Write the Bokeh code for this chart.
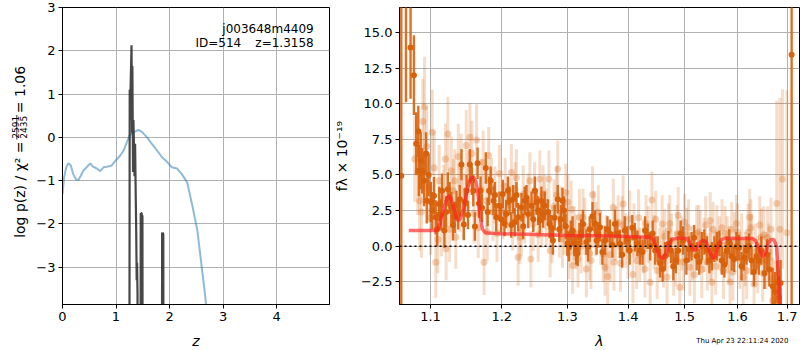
from bokeh.plotting import figure
from bokeh.models import (Range1d, FixedTicker, CustomJSTickFormatter, Label, Span,
                          ColumnDataSource)
from bokeh.layouts import row, column
from bokeh.core.properties import value
from bokeh.embed import file_html
from bokeh.resources import INLINE

# ---------------- left panel data ----------------
chi_z = [0.00, 0.03, 0.07, 0.11, 0.155, 0.20, 0.257, 0.30, 0.344, 0.39, 0.45, 0.519,
         0.563, 0.64, 0.706, 0.77, 0.83, 0.92, 0.99, 1.08, 1.14, 1.20, 1.25, 1.33,
         1.42, 1.49, 1.58, 1.67, 1.77, 1.86, 1.95, 2.04, 2.14, 2.23, 2.33, 2.42,
         2.52, 2.61, 2.67, 2.70]
chi_logp = [-1.31, -0.92, -0.69, -0.60, -0.65, -0.85, -0.98, -0.98, -0.88, -0.77,
            -0.69, -0.60, -0.67, -0.72, -0.78, -0.69, -0.68, -0.65, -0.54, -0.42,
            -0.31, -0.12, 0.04, 0.12, 0.17, 0.12, 0.00, -0.15, -0.31, -0.46, -0.56,
            -0.69, -0.72, -0.85, -1.04, -1.54, -2.15, -3.08, -3.70, -4.10]

pz_z = [1.248, 1.256, 1.262, 1.268, 1.290, 1.300, 1.306, 1.318, 1.326, 1.336, 1.346,
        1.357, 1.368, 1.378, 1.386, 1.394, 1.402, 1.412, 1.455, 1.462, 1.468, 1.474,
        1.480, 1.488, 1.494, 1.500, 1.856, 1.862, 1.870, 1.876, 1.884, 1.890]
pz_logp = [-9.0, 1.10, 0.40, 0.90, 2.13, 0.10, 1.65, -0.80, 0.40, -0.20, -0.90,
           -0.15, -1.30, -2.20, -3.30, -2.90, -3.60, -9.0, -9.0, -1.75, -3.40, -1.75,
           -1.75, -3.00, -1.80, -9.0, -9.0, -2.20, -2.30, -2.20, -2.25, -9.0]

left_xticks = [0, 1, 2, 3, 4]
left_yticks = [-3, -2, -1, 0, 1, 2, 3]
root_name = "j003648m4409"
id_text = "ID=514"
z_text = "z=1.3158"
ylabel_main = "log p(z) / \u03c7\u00b2 ="
chi_num = "2591"
chi_den = "2435"
ylabel_end = "= 1.06"

# ---------------- right panel data ----------------
dark_wave = [1.0615, 1.0676, 1.0736, 1.0780, 1.0810, 1.0838, 1.0845, 1.0870, 1.0890,
             1.0915, 1.0940, 1.0950, 1.0975, 1.1005, 1.1025, 1.1047, 1.1070, 1.1090,
             1.1117, 1.1140, 1.1156, 1.1188, 1.1212, 1.1236, 1.1260, 1.1283, 1.1305,
             1.1330, 1.1355, 1.1378, 1.1400, 1.1424, 1.1457, 1.1470, 1.1495, 1.1515,
             1.1542, 1.1570, 1.1590, 1.1613, 1.1651, 1.1670, 1.1693, 1.1715, 1.1768,
             1.1795, 1.1816, 1.1839, 1.1881, 1.1900, 1.1919, 1.1966, 1.1990, 1.2015,
             1.2040, 1.2065, 1.2090, 1.2115, 1.2140, 1.2167, 1.2191, 1.2217, 1.2242,
             1.2292, 1.2318, 1.2342, 1.2368, 1.2394, 1.2444, 1.2470, 1.2494, 1.2520,
             1.2545, 1.2570, 1.2595, 1.2620, 1.2645, 1.2695, 1.2721, 1.2748, 1.2773,
             1.2800, 1.2848, 1.2873, 1.2898, 1.2923, 1.2948, 1.2974, 1.3000, 1.3027,
             1.3055, 1.3083, 1.3110, 1.3138, 1.3165, 1.3193, 1.3222, 1.3250, 1.3305,
             1.3333, 1.3360, 1.3405, 1.3445, 1.3472, 1.3500, 1.3527, 1.3568, 1.3610,
             1.3652, 1.3693, 1.3735, 1.3777, 1.3818, 1.3860, 1.3900, 1.3943, 1.3985,
             1.4028, 1.4072, 1.4117, 1.4160, 1.4205, 1.4249, 1.4293, 1.4338, 1.4382,
             1.4426, 1.4470, 1.4514, 1.4558, 1.4602, 1.4647, 1.4707, 1.4751, 1.4795,
             1.4839, 1.4883, 1.4927, 1.4972, 1.5032, 1.5080, 1.5127, 1.5175, 1.5222,
             1.5270, 1.5317, 1.5365, 1.5412, 1.5460, 1.5507, 1.5555, 1.5602, 1.5650,
             1.5696, 1.5745, 1.5791, 1.5840, 1.5886, 1.5935, 1.5981, 1.6030, 1.6078,
             1.6127, 1.6176, 1.6226, 1.6275, 1.6324, 1.6373, 1.6422, 1.6471, 1.6535,
             1.6584, 1.6633, 1.6700, 1.6750, 1.6798, 1.6830, 1.6863, 1.7092]
dark_flux = [4.94, 18.5, 13.95, 12.0, 7.2, 8.06, 5.3, 6.0, 5.3,
             4.6, 6.5, 3.2, 5.0, 3.1, 2.5, 3.55, 2.03, 1.2,
             2.97, 2.2, 3.9, 1.1, 2.4, 4.0, 3.4, 2.73, 1.5,
             2.03, 2.9, 2.27, 3.3, 5.73, 1.52, 3.1, 3.9, 2.2,
             5.73, 4.6, 3.9, 1.38, 5.82, 3.0, 3.9, 2.7, 5.49,
             2.4, 3.9, 4.6, 3.2, 3.6, 2.03, 2.85, 1.9, 3.67,
             1.6, 2.27, 3.9, 3.2, 1.5, 3.3, 1.68, 3.6, 2.03,
             2.73, 1.4, 3.2, 3.4, 2.27, 2.85, 1.9, 3.9, 3.1,
             2.5, 1.8, 3.2, 2.2, 2.85, 2.4, 1.56, 1.3, 0.4,
             2.0, 3.3, 1.2, 1.9, 3.2, 2.5, 1.4, 0.2, -0.07,
             0.9, 1.1, 0.2, -0.3, -0.5, 0.63, 1.0, 1.56, 0.3,
             -0.07, 1.2, 2.1, 1.6, 0.4, 0.8, 1.33, -0.4, 0.4,
             1.2, 0.87, 0.1, 1.56, 0.9, 0.17, -0.6, 1.1, 0.5,
             -0.3, 1.3, 0.63, 0.2, -0.3, -0.4, 1.1, 0.7, 0.0,
             0.9, -0.3, -0.2, -1.2, -1.6, -0.7, 0.17, -0.3, -1.4,
             -1.0, -0.3, 0.9, 0.4, -1.0, -0.2, 0.0, 0.6, -0.7,
             -1.1, 0.0, 0.3, -0.3, -1.0, -0.7, -0.2, 0.0, 0.2,
             -1.0, -1.3, -0.3, 0.3, -0.7, -0.9, 0.0, -0.1, -1.4,
             -0.8, -0.3, 0.0, -1.0, -1.8, -0.7, -1.0, -0.3, -1.9,
             -0.6, -1.63, -2.8, -3.2, -2.5, -3.6, -2.57, 13.43]
dark_err = [14.0, 8.4, 3.6, 2.8, 2.2, 1.8, 1.8, 2.0, 1.6,
            1.8, 1.5, 1.6, 1.5, 1.4, 1.3, 1.3, 1.2, 1.2,
            1.2, 1.1, 1.2, 1.2, 1.1, 1.2, 1.1, 1.1, 1.1,
            1.1, 1.0, 1.1, 1.0, 1.1, 1.1, 1.0, 1.1, 1.0,
            1.1, 1.0, 1.1, 1.0, 1.1, 1.0, 1.0, 1.0, 1.1,
            1.0, 1.0, 1.0, 1.0, 0.9, 1.0, 1.0, 0.9, 1.0,
            0.9, 1.0, 1.0, 1.0, 0.9, 1.0, 1.0, 0.9, 1.0,
            1.0, 0.9, 1.0, 0.9, 1.0, 1.0, 0.9, 1.0, 0.9,
            1.0, 0.9, 1.0, 0.9, 1.0, 0.9, 1.0, 0.9, 1.0,
            0.9, 1.0, 0.9, 1.0, 0.9, 1.0, 0.9, 0.9, 1.0,
            0.9, 1.0, 0.9, 1.0, 0.9, 1.0, 0.9, 1.0, 0.9,
            1.0, 0.9, 1.0, 0.9, 1.0, 0.9, 1.0, 0.9, 1.0,
            0.9, 1.0, 0.9, 1.0, 0.9, 1.0, 0.9, 1.0, 0.9,
            1.0, 0.9, 1.0, 0.9, 1.0, 0.9, 1.0, 0.9, 1.0,
            0.9, 1.0, 0.9, 1.0, 0.9, 1.0, 0.9, 0.9, 1.0,
            0.9, 1.0, 0.9, 1.0, 1.0, 0.9, 1.0, 0.9, 1.0,
            0.9, 1.0, 0.9, 1.0, 0.9, 1.0, 0.9, 1.0, 0.9,
            1.0, 0.9, 1.0, 0.9, 1.0, 0.9, 1.0, 0.9, 1.0,
            0.9, 1.0, 0.9, 1.0, 1.0, 1.0, 1.0, 1.0, 1.1,
            1.1, 1.2, 1.3, 1.4, 1.5, 1.5, 1.6, 20.0]

light_wave = [1.0790, 1.0855, 1.0899, 1.0921, 1.0975, 1.1024, 1.1071, 1.1117, 1.1150,
              1.1203, 1.1212, 1.1236, 1.1283, 1.1330, 1.1345, 1.1401, 1.1420, 1.1490,
              1.1542, 1.1600, 1.1637, 1.1731, 1.1744, 1.1778, 1.1810, 1.1850, 1.1872,
              1.1930, 1.1966, 1.2015, 1.2100, 1.2141, 1.2195, 1.2217, 1.2242, 1.2268,
              1.2290, 1.2318, 1.2390, 1.2419, 1.2434, 1.2470, 1.2545, 1.2570, 1.2620,
              1.2645, 1.2670, 1.2710, 1.2730, 1.2790, 1.2848, 1.2873, 1.2900, 1.2923,
              1.2974, 1.3010, 1.3027, 1.3083, 1.3110, 1.3138, 1.3193, 1.3220, 1.3250,
              1.3305, 1.3360, 1.3405, 1.3460, 1.3500, 1.3540, 1.3583, 1.3610, 1.3655,
              1.3700, 1.3749, 1.3790, 1.3832, 1.3870, 1.3915, 1.3960, 1.4028, 1.4083,
              1.4100, 1.4147, 1.4200, 1.4263, 1.4310, 1.4382, 1.4413, 1.4450, 1.4506,
              1.4550, 1.4594, 1.4640, 1.4682, 1.4707, 1.4760, 1.4800, 1.4840, 1.4883,
              1.4910, 1.4950, 1.5000, 1.5040, 1.5095, 1.5140, 1.5222, 1.5260, 1.5317,
              1.5360, 1.5420, 1.5475, 1.5507, 1.5530, 1.5602, 1.5650, 1.5728, 1.5760,
              1.5830, 1.5854, 1.5886, 1.5940, 1.6000, 1.6045, 1.6110, 1.6150, 1.6207,
              1.6239, 1.6280, 1.6326, 1.6400, 1.6471, 1.6520, 1.6569, 1.6620, 1.6667,
              1.6700, 1.6760, 1.6784, 1.6849, 1.6902, 1.6994]
light_flux = [6.12, 3.2, 8.76, 9.79, 4.13, 8.0, -1.12, 4.6, 1.5,
              6.12, -0.18, 7.87, 5.3, 4.6, 0.63, 3.2, 5.6, 7.06,
              7.64, 2.3, 7.46, 5.9, -1.12, 3.2, 6.36, 4.2, 2.38,
              0.9, 5.1, 2.5, 2.9, 5.17, 4.0, 4.8, -0.77, 0.63,
              1.2, 3.67, 3.2, 4.6, -0.89, 1.56, 0.8, 4.72, 3.67,
              3.1, 2.03, 4.72, -0.3, 2.8, 5.42, 1.1, 2.3, 0.5,
              3.78, 3.08, -0.42, -1.35, 0.9, 0.3, 2.03, 0.0, 2.03,
              -1.59, -0.5, 3.62, 1.2, 2.38, 0.6, -0.53, -1.47, -2.12,
              -0.6, 2.73, 0.9, 1.68, -1.2, 2.97, 0.4, 1.92, -1.98,
              1.1, -1.0, -0.6, 0.0, 1.6, -2.52, 3.25, 0.3, -1.7,
              -0.6, 1.57, 0.7, -2.17, 1.1, 0.4, -1.47, -0.9, 2.15,
              -2.87, 0.2, 1.68, 0.8, -1.47, -0.5, 0.87, 1.0, -1.63,
              0.1, -1.1, 1.8, -2.52, 1.2, 0.87, 0.2, -1.7, 0.9,
              -0.6, -2.5, 1.2, 0.5, 1.0, -1.0, -2.17, -0.9, 0.98,
              2.03, 0.4, -2.64, -1.3, 0.63, 0.8, -1.0, -0.4, 1.2,
              -3.8, -4.0, 3.0, 1.2, 4.72, 0.94]
light_err = [3.0, 3.5, 3.0, 3.5, 2.5, 3.0, 2.5, 2.5, 2.2,
             2.5, 2.2, 2.6, 2.4, 2.2, 2.2, 2.2, 2.3, 2.5,
             2.4, 2.1, 2.5, 2.2, 2.3, 2.2, 2.0, 2.0, 2.0,
             2.0, 2.0, 2.0, 1.9, 2.0, 1.9, 2.0, 2.0, 1.9,
             1.9, 2.0, 1.9, 2.0, 2.0, 1.9, 1.9, 2.0, 2.0,
             1.9, 2.0, 2.0, 1.9, 1.9, 2.0, 1.9, 1.9, 2.0,
             2.0, 2.0, 1.9, 2.0, 1.9, 1.9, 2.0, 1.9, 2.0,
             2.0, 1.9, 2.0, 1.9, 1.9, 1.9, 2.0, 2.0, 2.0,
             1.9, 2.0, 1.9, 1.9, 2.0, 2.0, 1.9, 2.0, 2.0,
             1.9, 2.0, 1.9, 1.9, 2.0, 2.0, 2.0, 1.9, 2.0,
             1.9, 2.0, 1.9, 2.0, 1.9, 1.9, 2.0, 1.9, 2.0,
             2.0, 1.9, 2.0, 1.9, 2.0, 1.9, 2.0, 1.9, 2.0,
             1.9, 2.0, 2.0, 2.0, 1.9, 2.0, 1.9, 2.0, 1.9,
             2.0, 2.0, 1.9, 1.9, 2.0, 2.0, 2.0, 1.9, 2.0,
             2.0, 1.9, 2.0, 2.0, 2.0, 2.0, 2.0, 2.0, 2.2,
             3.0, 3.0, 7.2, 9.2, 6.3, 10.0]

light2_wave = [1.0830, 1.0880, 1.0950, 1.1000, 1.1050, 1.1100, 1.1180, 1.1260, 1.1310, 1.1380,
               1.1450, 1.1520, 1.1570, 1.1660, 1.1700, 1.1790, 1.1900, 1.2050, 1.2160, 1.2340,
               1.2490, 1.2600, 1.2760, 1.2830, 1.2950, 1.3060, 1.3170, 1.3280, 1.3380, 1.3430,
               1.3630, 1.3760, 1.3900, 1.4000, 1.4180, 1.4290, 1.4350, 1.4480, 1.4620, 1.4730,
               1.4860, 1.4980, 1.5070, 1.5180, 1.5290, 1.5390, 1.5480, 1.5580, 1.5700, 1.5800,
               1.5910, 1.5980, 1.6080, 1.6180, 1.6260, 1.6350, 1.6440, 1.6500, 1.6600, 1.6680]
light2_flux = [5.2, 2.4, 7.0, 2.0, 5.5, 0.5, 3.4, 1.2, 3.9, 6.3,
               2.8, 4.4, 6.5, 1.3, 4.0, 1.0, 3.6, 4.2, 1.7, 2.2,
               3.9, 1.9, 0.8, 3.6, 1.4, 2.6, -0.9, 1.4, -1.0, 1.9,
               0.2, -1.1, 1.5, -0.3, 2.0, -1.6, 0.8, 1.9, -0.9, 1.6,
               0.9, -1.1, 1.3, -2.0, 0.5, 1.5, -0.4, -1.4, 1.3, 0.1,
               -1.8, 1.6, 0.3, -1.7, 1.3, -0.4, 1.5, -1.9, 0.6, -2.3]
light2_err = [3.0, 3.2, 2.8, 2.6, 2.6, 2.4, 2.3, 2.3, 2.2, 2.3,
              2.3, 2.3, 2.3, 2.1, 2.1, 2.0, 2.0, 2.0, 2.0, 2.0,
              2.0, 2.0, 2.0, 2.0, 2.0, 2.0, 2.0, 2.0, 2.0, 2.0,
              2.0, 2.0, 2.0, 2.0, 2.0, 2.0, 2.0, 2.0, 2.0, 2.0,
              2.0, 2.0, 2.0, 2.0, 2.0, 2.0, 2.0, 2.0, 2.0, 2.0,
              2.0, 2.0, 2.0, 2.0, 2.0, 2.0, 2.0, 2.0, 2.2, 2.4]

model_wave = [1.0712, 1.080, 1.090, 1.100, 1.1085, 1.113, 1.118, 1.1225, 1.126, 1.130,
              1.134, 1.1375, 1.1405, 1.145, 1.149, 1.153, 1.156, 1.160, 1.163, 1.166,
              1.169, 1.172, 1.176, 1.185, 1.200, 1.250, 1.300, 1.350, 1.400, 1.438,
              1.444, 1.450, 1.456, 1.461, 1.466, 1.472, 1.478, 1.490, 1.503, 1.509,
              1.516, 1.522, 1.528, 1.534, 1.540, 1.546, 1.552, 1.556, 1.562, 1.568,
              1.575, 1.600, 1.628, 1.636, 1.643, 1.650, 1.655, 1.661, 1.667, 1.673,
              1.678, 1.682, 1.686, 1.689]
model_flux = [1.1, 1.1, 1.1, 1.1, 1.1, 1.6, 2.7, 3.4, 3.55, 3.0,
              2.2, 1.8, 1.9, 2.6, 3.6, 4.5, 4.8, 4.8, 4.5, 3.5,
              2.0, 1.2, 0.95, 0.92, 0.88, 0.82, 0.76, 0.73, 0.68, 0.64,
              0.45, -0.2, -0.75, -0.88, -0.5, 0.2, 0.5, 0.58, 0.55, 0.3,
              -0.3, -0.2, 0.25, 0.42, 0.3, -0.3, -0.85, -0.8, -0.1, 0.45,
              0.55, 0.55, 0.55, 0.4, -0.2, -0.75, -0.5, 0.2, 0.48, 0.45,
              0.0, -2.0, -4.2, -6.0]

right_xticks = [1.1, 1.2, 1.3, 1.4, 1.5, 1.6, 1.7]
right_yticks = [-2.5, 0.0, 2.5, 5.0, 7.5, 10.0, 12.5, 15.0]
timestamp = "Thu Apr 23 22:11:24 2020"

FONT = "DejaVu Sans"
ORANGE = "#d8620c"
ROW_H = 326
STRIP_H = 24
MINUS_FMT0 = "return (tick < 0 ? '\\u2212' : '') + Math.abs(tick).toFixed(0);"
MINUS_FMT1 = "return (tick < 0 ? '\\u2212' : '') + Math.abs(tick).toFixed(1);"


def style(p):
    p.outline_line_color = "black"
    p.outline_line_width = 1
    p.outline_line_alpha = 1
    for ax in (p.xaxis[0], p.yaxis[0]):
        ax.axis_line_color = "black"
        ax.major_tick_line_color = "black"
        ax.major_tick_out = 4
        ax.major_tick_in = 0
        ax.minor_tick_line_color = None
        ax.major_label_text_font = FONT
        ax.major_label_text_font_size = "13px"
        ax.major_label_text_color = "black"
        ax.axis_label_text_font = FONT
        ax.axis_label_text_color = "black"
        ax.major_label_standoff = 3
    p.grid.grid_line_color = "#b0b0b0"
    p.grid.grid_line_width = 1
    p.background_fill_color = "white"
    p.border_fill_color = "white"


def blank(w, h):
    f = figure(width=w, height=h, x_range=Range1d(0, w), y_range=Range1d(0, h),
               output_backend="svg", toolbar_location=None,
               x_axis_location=None, y_axis_location=None, min_border=0)
    f.grid.visible = False
    f.outline_line_color = None
    f.background_fill_color = "white"
    f.border_fill_color = "white"
    return f


def lab(fig, x, y, text, size, align="left", baseline="alphabetic", angle=0,
        style_="normal"):
    fig.add_layout(Label(x=x, y=y, text=text, angle=angle, angle_units="deg",
                         text_align=align, text_baseline=baseline, text_font=FONT,
                         text_font_size=size, text_font_style=style_,
                         text_color="black"))


# ---------------- y label strip for the left panel ----------------
plab = blank(30, ROW_H)
# main text ends just below the fraction, "= 1.06" starts just above it
lab(plab, 19, ROW_H - 147, ylabel_main, "14px", align="right", angle=90)
lab(plab, 15, ROW_H - 131.5, chi_num, "9px", align="center", angle=90)
lab(plab, 23, ROW_H - 131.5, chi_den, "9px", align="center", angle=90)
plab.segment(x0=[16.3], y0=[ROW_H - 145], x1=[16.3], y1=[ROW_H - 118],
             line_color="black", line_width=0.8)
lab(plab, 19, ROW_H - 116, ylabel_end, "14px", align="left", angle=90)

# ---------------- left figure ----------------
p1 = figure(width=300, height=ROW_H, x_range=Range1d(0, 4.99), y_range=Range1d(-3.862, 3.0),
            output_backend="svg", toolbar_location=None,
            min_border_left=32, min_border_right=1, min_border_top=7, min_border_bottom=22)
style(p1)
p1.xaxis.ticker = FixedTicker(ticks=left_xticks)
p1.yaxis.ticker = FixedTicker(ticks=left_yticks)
p1.xaxis.formatter = CustomJSTickFormatter(code=MINUS_FMT0)
p1.yaxis.formatter = CustomJSTickFormatter(code=MINUS_FMT0)

p1.line(chi_z, chi_logp, line_color="#1f77b4", line_alpha=0.5, line_width=2)
p1.line(pz_z, pz_logp, line_color="#333333", line_alpha=0.9, line_width=2.2)

lab(p1, 4.695, 2.50, root_name, "12px", align="right")
lab(p1, 3.34, 2.17, id_text, "12px", align="right")
lab(p1, 4.695, 2.17, z_text, "12px", align="right")

# ---------------- right figure ----------------
p2 = figure(width=470, height=ROW_H, x_axis_type="log",
            x_range=Range1d(1.0592, 1.7257), y_range=Range1d(-4.086, 16.75),
            output_backend="svg", toolbar_location=None,
            min_border_left=69, min_border_right=1, min_border_top=7, min_border_bottom=22)
style(p2)
p2.xaxis.ticker = FixedTicker(ticks=right_xticks)
p2.yaxis.ticker = FixedTicker(ticks=right_yticks)
p2.xaxis.formatter = CustomJSTickFormatter(code="return tick.toFixed(1);")
p2.yaxis.formatter = CustomJSTickFormatter(code=MINUS_FMT1)
p2.yaxis.axis_label = "f\u03bb \u00d7 10\u207b\u00b9\u2079"
p2.yaxis.axis_label_text_font_style = "normal"
p2.yaxis.axis_label_text_font_size = "14px"
p2.yaxis.axis_label_standoff = 8

lw = light_wave + light2_wave
lf = light_flux + light2_flux
le = light_err + light2_err
light = ColumnDataSource(dict(x=lw, y=lf,
                              lo=[f - e for f, e in zip(lf, le)],
                              hi=[f + e for f, e in zip(lf, le)]))
dark = ColumnDataSource(dict(x=dark_wave, y=dark_flux,
                             lo=[f - e for f, e in zip(dark_flux, dark_err)],
                             hi=[f + e for f, e in zip(dark_flux, dark_err)]))

p2.segment(x0="x", y0="lo", x1="x", y1="hi", source=light, line_color=ORANGE,
           line_alpha=0.22, line_width=3)
p2.scatter(x="x", y="y", source=light, size=7, fill_color=ORANGE, fill_alpha=0.28,
           line_color=None)
p2.segment(x0="x", y0="lo", x1="x", y1="hi", source=dark, line_color=ORANGE,
           line_alpha=0.9, line_width=2.4)
p2.scatter(x="x", y="y", source=dark, size=6, fill_color=ORANGE, fill_alpha=1.0,
           line_color=None)
p2.line(model_wave, model_flux, line_color="#ff2222", line_alpha=0.65, line_width=3.5)
p2.add_layout(Span(location=0, dimension="width", line_color="black", line_width=1.6,
                   line_dash="2 3"))

# ---------------- bottom strip: axis labels and timestamp ----------------
strip = blank(800, STRIP_H)
lab(strip, 195.5, STRIP_H - (340 - ROW_H), "z", "14px", align="center",
    baseline="middle", style_="italic")
lab(strip, 599, STRIP_H - (340 - ROW_H), "\u03bb", "14px", align="center",
    baseline="middle", style_="italic")
lab(strip, 788, STRIP_H - (340 - ROW_H), timestamp, "7px", align="right",
    baseline="middle")

layout = column(row(plab, p1, p2), strip)
open("out.html", "w").write(file_html(layout, INLINE))
